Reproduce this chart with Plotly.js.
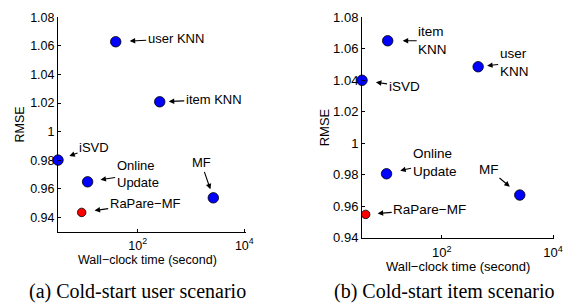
<!DOCTYPE html>
<html>
<head>
<meta charset="utf-8">
<script src="https://cdn.plot.ly/plotly-3.0.1.min.js"></script>
<style>html,body{margin:0;padding:0;background:#fff;}#chart{width:582px;height:305px;}</style>
</head>
<body>
<div id="chart"></div>
<script>
// ---- data ----
const methodsA = ['user KNN', 'item KNN', 'iSVD', 'Online Update', 'MF', 'RaPare−MF'];
const labelsA = ['user KNN', 'item KNN', 'iSVD', 'Online<br>Update', 'MF', 'RaPare−MF'];
const methodsB = ['item KNN', 'user KNN', 'iSVD', 'Online Update', 'MF', 'RaPare−MF'];
const labelsB = ['item<br>KNN', 'user<br>KNN', 'iSVD', 'Online<br>Update', 'MF', 'RaPare−MF'];
const timeA = [38.7, 259, 3.2, 11.5, 2620, 8.9];
const rmseA = [1.0629, 1.0209, 0.9801, 0.9649, 0.9537, 0.9435];
const timeB = [10.6, 449, 3.66, 10.1, 2519, 4.26];
const rmseB = [1.0651, 1.0486, 1.040, 0.9806, 0.9671, 0.9548];
const yTickVals = [0.94, 0.96, 0.98, 1, 1.02, 1.04, 1.06, 1.08];
const yTickText = ['0.94', '0.96', '0.98', '1', '1.02', '1.04', '1.06', '1.08'];
const xTickVals = [100, 10000];
const xTickText = ['10<sup>2</sup>', '10<sup>4</sup>'];
const xTitle = 'Wall−clock time (second)';
const yTitle = 'RMSE';
const captions = ['(a) Cold-start user scenario', '(b) Cold-start item scenario'];

// ---- annotation placement (pixels) ----
const offA = [[60, -3, 14], [54, -2, 9], [36, -13, 12], [50, -8, 13], [-12, -35, 9], [63, -9, 13]];
const offB = [[45, 0, 15], [36, -4, 9], [42, 6, 14], [48, -11, 14], [-31, -26, 13], [64, -5, 12]];

const FONT = 'Liberation Sans, Arial, Helvetica, sans-serif';
const isRed = n => n === 'RaPare−MF';

function trace(names, xs, ys, xa, ya) {
  return {
    x: xs, y: ys, xaxis: xa, yaxis: ya, mode: 'markers', type: 'scatter',
    cliponaxis: false, text: names, hoverinfo: 'text',
    marker: {
      color: names.map(n => isRed(n) ? '#ff0000' : '#0000ff'),
      size: names.map(n => isRed(n) ? 8.5 : 10.5),
      opacity: 1,
      line: {color: '#000', width: 0.8}
    },
    showlegend: false
  };
}

function anns(labels, xs, ys, offs, xr, yr, fs) {
  return labels.map((t, i) => ({
    x: Math.log10(xs[i]), y: ys[i], xref: xr, yref: yr,
    text: t, align: 'left', showarrow: true,
    ax: offs[i][0], ay: offs[i][1], standoff: offs[i][2],
    arrowhead: 2, arrowsize: 1, arrowwidth: 1.1, arrowcolor: '#000',
    font: {family: FONT, size: fs, color: '#000'}
  }));
}

function xaxis(domain, range, fs, standoff) {
  return {
    domain: domain, type: 'log', range: range,
    tickvals: xTickVals, ticktext: xTickText,
    showline: true, linecolor: '#000', linewidth: 1, ticks: 'inside', ticklen: 3, tickcolor: '#000',
    showgrid: false, zeroline: false, mirror: false, ticklabelstandoff: standoff,
    tickfont: {family: FONT, size: fs, color: '#000'}
  };
}
function yaxis(domain, range, fs, anchor, standoff) {
  return {
    domain: domain, range: range, anchor: anchor,
    tickvals: yTickVals, ticktext: yTickText,
    showline: true, linecolor: '#000', linewidth: 1, ticks: 'inside', ticklen: 3, tickcolor: '#000',
    showgrid: false, zeroline: false, mirror: false,
    tickfont: {family: FONT, size: fs, color: '#000'},
    title: {text: yTitle, font: {family: FONT, size: fs, color: '#000'}, standoff: standoff}
  };
}

const data = [trace(methodsA, timeA, rmseA, 'x', 'y'), trace(methodsB, timeB, rmseB, 'x2', 'y2')];

const layout = {
  width: 582, height: 305,
  margin: {l: 0, r: 0, t: 0, b: 0},
  paper_bgcolor: '#fff', plot_bgcolor: '#fff',
  xaxis: Object.assign(xaxis([58 / 582, 245.7 / 582], [0.505, 4.026], 12.5, 2), {anchor: 'y'}),
  yaxis: yaxis([1 - 231.7 / 305, 1 - 17.3 / 305], [0.93, 1.08], 12.5, 'x', 2),
  xaxis2: Object.assign(xaxis([362 / 582, 554.3 / 582], [0.563, 4.022], 13, 3), {anchor: 'y2'}),
  yaxis2: yaxis([1 - 237.7 / 305, 1 - 17.3 / 305], [0.94, 1.08], 13, 'x2', 0),
  annotations: [].concat(
    anns(labelsA, timeA, rmseA, offA, 'x', 'y', 13),
    anns(labelsB, timeB, rmseB, offB, 'x2', 'y2', 13.5),
    [
      {text: xTitle, xref: 'paper', yref: 'paper', x: 147.2 / 582, y: 1 - 260 / 305,
       xanchor: 'center', yanchor: 'middle', showarrow: false,
       font: {family: FONT, size: 12.5, color: '#000'}},
      {text: xTitle, xref: 'paper', yref: 'paper', x: 457.8 / 582, y: 1 - 266.5 / 305,
       xanchor: 'center', yanchor: 'middle', showarrow: false,
       font: {family: FONT, size: 13, color: '#000'}}
    ],
    captions.map((c, i) => ({
      text: c, xref: 'paper', yref: 'paper', x: i === 0 ? 137 / 582 : 444.5 / 582, y: 1 - 291 / 305,
      xanchor: 'center', yanchor: 'middle', showarrow: false,
      font: {family: 'Liberation Serif, Times New Roman, serif', size: 20, color: '#000'}
    }))
  )
};

Plotly.newPlot('chart', data, layout, {staticPlot: true, displayModeBar: false});
</script>
</body>
</html>
